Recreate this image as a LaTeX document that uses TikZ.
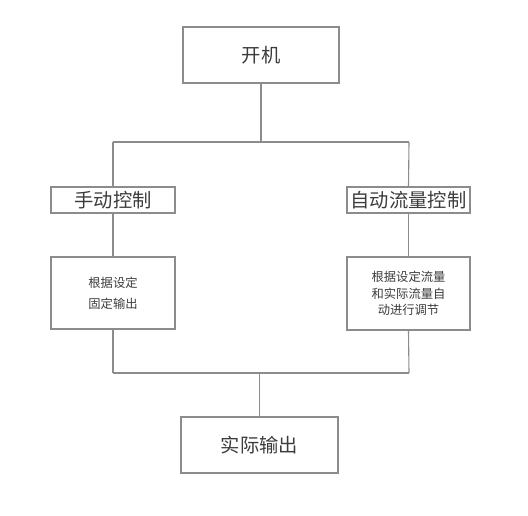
\documentclass[tikz,border=0pt]{standalone}
\usepackage{fontspec}
\newfontfamily\cjk{Noto Sans CJK SC}
\definecolor{linegray}{RGB}{140,140,140}
\definecolor{textgray}{RGB}{60,60,60}
\tikzset{
  box/.style={draw=linegray, line width=1.1pt, fill=white, inner sep=0pt},
  big/.style={font=\cjk\fontsize{19.3}{22}\selectfont, text=textgray},
  smallL/.style={font=\cjk\fontsize{12.3}{21}\selectfont, text=textgray, align=center},
  smallR/.style={font=\cjk\fontsize{12.3}{16.5}\selectfont, text=textgray, align=center},
  conn/.style={draw=linegray, line width=1.1pt}
}
\begin{document}
\begin{tikzpicture}[x=1pt,y=-1pt]
\useasboundingbox (0,0) rectangle (528,515);
% boxes
\node[box, minimum width=156pt, minimum height=56pt, big] (start) at (261,55) {开机};
\node[box, minimum width=124pt, minimum height=26pt, big] (manual) at (113,200) {手动控制};
\node[box, minimum width=123pt, minimum height=26pt, big] (auto) at (408.5,200) {自动流量控制};
\node[box, minimum width=124pt, minimum height=72pt, smallL] (mfix) at (113,293) {根据设定\\固定输出};
\node[box, minimum width=123pt, minimum height=73pt, smallR] (aadj) at (408.5,293.5) {根据设定流量\\和实际流量自\\动进行调节};
\node[box, minimum width=157pt, minimum height=56pt, big] (out) at (259.5,445) {实际输出};
% junction coordinates
\coordinate (tj) at (261,142);
\coordinate (tl) at (113,142);
\coordinate (tr) at (409,142);
\coordinate (bj) at (259.5,373);
\coordinate (bl) at (113,373);
\coordinate (br) at (409,373);
% connectors
\draw[conn] (start.south) -- (tj);
\draw[conn] (tl) -- (tr);
\draw[conn] (tl) -- (manual.north);
\draw[conn] (tr) -- (auto.north);
\draw[conn] (manual.south) -- (mfix.north);
\draw[conn] (auto.south) -- (aadj.north);
\draw[conn] (mfix.south) -- (bl);
\draw[conn] (aadj.south) -- (br);
\draw[conn] (bl) -- (br);
\draw[conn] (bj) -- (out.north);
\end{tikzpicture}
\end{document}
